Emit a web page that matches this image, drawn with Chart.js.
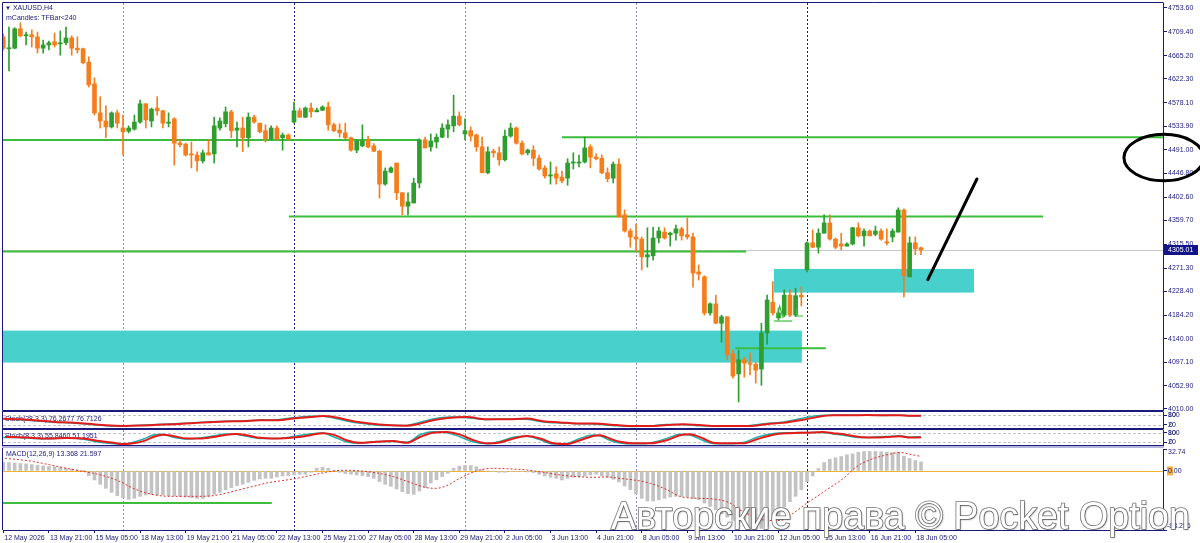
<!DOCTYPE html>
<html lang="ru"><head><meta charset="utf-8">
<script src="https://cdn.jsdelivr.net/npm/chart.js@4.4.1/dist/chart.umd.min.js"></script>
<style>
html,body{margin:0;padding:0;background:#ffffff;}
body{position:relative;width:1200px;height:543px;overflow:hidden;}
canvas{position:absolute;left:0;display:block;}
.lbl{position:absolute;font-family:'Liberation Sans',Arial,sans-serif;font-size:7px;line-height:8px;color:#1a1a7a;white-space:nowrap;}
#wm{position:absolute;left:611px;top:497px;font-family:'Liberation Sans',Arial,sans-serif;font-size:38px;line-height:38px;color:#ffffff;-webkit-text-stroke:1.6px #767676;paint-order:stroke fill;white-space:nowrap;transform-origin:0 0;text-shadow:1px 1px 2px rgba(0,0,0,0.3);}
</style></head><body>
<canvas id="cMain" width="1200" height="412" style="top:0px"></canvas>
<canvas id="cS1" width="1200" height="18" style="top:411px"></canvas>
<canvas id="cS2" width="1200" height="17" style="top:429px"></canvas>
<canvas id="cM" width="1200" height="97" style="top:446px"></canvas>
<div class="lbl" style="left:5px;top:4px;"><span style="font-size:6px">▼</span> XAUUSD,H4</div>
<div class="lbl" style="left:6px;top:14px;">mCandles: TFBar&lt;240</div>
<div id="wm">Авторские права © Pocket Option</div>
<script>
// ---------- data ----------
const openP = [4700,4678,4679,4715,4702,4704,4700,4679,4685,4691,
4687,4689,4698,4679,4678,4653,4613,4559,4544,4533,
4559,4531,4525,4529,4542,4576,4544,4568,4563,4540,
4548,4503,4501,4483,4481,4470,4485,4483,4531,4539,
4561,4527,4531,4513,4551,4540,4526,4511,4531,4513,
4518,4542,4563,4551,4568,4561,4564,4570,4537,4527,
4522,4513,4490,4498,4509,4498,4488,4427,4449,4466,
4411,4386,4392,4429,4509,4496,4505,4514,4529,4535,
4553,4520,4526,4518,4496,4448,4488,4485,4472,4516,
4531,4503,4485,4490,4475,4457,4442,4446,4440,4438,
4466,4466,4468,4496,4477,4475,4448,4438,4464,4370,
4340,4329,4325,4292,4294,4327,4338,4333,4336,4344,
4333,4329,4264,4255,4188,4205,4169,4181,4112,4075,
4101,4095,4093,4084,4151,4208,4179,4184,4221,4184,
4221,4268,4318,4310,4336,4355,4325,4316,4312,4316,
4346,4331,4340,4334,4340,4320,4329,4338,4379,4255,
4318,4309];
const highP = [4705,4718,4717,4726,4709,4713,4709,4694,4692,4707,
4711,4718,4702,4700,4679,4663,4624,4589,4572,4561,
4564,4555,4535,4555,4583,4576,4568,4589,4564,4559,
4550,4509,4503,4505,4487,4490,4509,4551,4550,4570,
4564,4542,4551,4559,4555,4540,4537,4535,4535,4522,
4520,4579,4568,4570,4577,4568,4572,4579,4540,4539,
4540,4514,4509,4537,4516,4502,4490,4457,4459,4466,
4411,4411,4438,4511,4514,4520,4520,4539,4546,4592,
4561,4548,4533,4520,4514,4496,4492,4496,4527,4540,
4533,4507,4492,4498,4481,4461,4468,4459,4451,4474,
4485,4481,4514,4500,4483,4481,4457,4468,4474,4379,
4344,4353,4329,4346,4347,4347,4346,4338,4351,4347,
4364,4336,4277,4257,4207,4221,4184,4181,4119,4119,
4106,4114,4097,4169,4221,4246,4197,4231,4231,4234,
4236,4320,4342,4344,4370,4370,4327,4336,4318,4347,
4355,4344,4342,4349,4344,4344,4344,4383,4381,4329,
4329,4310];
const lowP = [4676,4637,4678,4700,4685,4681,4670,4670,4676,4681,
4666,4685,4666,4670,4650,4607,4555,4531,4513,4531,
4531,4481,4522,4527,4540,4531,4533,4555,4531,4533,
4462,4496,4479,4457,4451,4466,4481,4466,4527,4533,
4513,4496,4487,4496,4540,4522,4505,4509,4509,4490,
4509,4540,4551,4550,4551,4561,4563,4527,4524,4514,
4511,4488,4485,4496,4494,4487,4401,4425,4448,4398,
4370,4370,4392,4420,4494,4488,4494,4513,4513,4524,
4535,4509,4507,4488,4448,4446,4477,4462,4470,4514,
4501,4481,4481,4461,4453,4438,4427,4427,4429,4425,
4455,4459,4466,4457,4472,4446,4431,4429,4366,4338,
4310,4301,4268,4273,4286,4318,4325,4312,4323,4323,
4325,4236,4249,4184,4184,4168,4134,4101,4067,4023,
4069,4073,4058,4054,4130,4184,4175,4181,4181,4181,
4201,4264,4309,4299,4336,4323,4307,4305,4312,4314,
4329,4312,4331,4331,4323,4314,4320,4338,4218,4255,
4296,4296];
const closeP = [4679,4679,4715,4702,4704,4700,4679,4685,4689,4685,
4689,4698,4679,4676,4652,4611,4559,4544,4533,4559,
4540,4524,4531,4542,4576,4546,4566,4563,4540,4542,
4503,4500,4481,4481,4470,4485,4481,4535,4544,4561,
4526,4531,4513,4551,4542,4524,4511,4531,4511,4518,
4511,4563,4551,4568,4561,4564,4570,4537,4526,4522,
4513,4490,4507,4507,4496,4488,4427,4451,4457,4411,
4386,4394,4429,4509,4494,4507,4514,4531,4537,4553,
4537,4526,4516,4496,4448,4487,4485,4472,4516,4531,
4503,4483,4490,4475,4455,4442,4444,4438,4433,4466,
4468,4468,4494,4477,4474,4448,4437,4464,4366,4340,
4329,4325,4292,4296,4327,4340,4327,4336,4344,4331,
4329,4262,4260,4188,4205,4169,4181,4110,4071,4101,
4095,4093,4082,4151,4212,4188,4188,4221,4184,4220,
4218,4318,4310,4336,4355,4325,4310,4312,4316,4346,
4331,4340,4331,4340,4325,4318,4340,4379,4257,4318,
4307,4305.01];

const priceTicks = [4010.00,4052.90,4097.10,4140.00,4184.20,4228.40,4271.30,4315.50,4359.70,4402.60,4446.80,4491.00,4533.90,4578.10,4622.30,4665.20,4709.40,4753.60];
const timeLabels = ['12 May 2026','13 May 21:00','15 May 05:00','18 May 13:00','19 May 21:00','21 May 05:00','22 May 13:00','25 May 21:00','27 May 05:00','28 May 13:00','29 May 21:00','2 Jun 05:00','3 Jun 13:00','4 Jun 21:00','8 Jun 05:00','9 Jun 13:00','10 Jun 21:00','12 Jun 05:00','15 Jun 13:00','16 Jun 21:00','18 Jun 05:00'];

const macdHist = [13,12.5,11.5,11,10.5,9.5,8.5,7.5,6.5,6,
5,4,3,1.5,0.5,-7,-13.5,-20,-26,-32,
-37,-40,-42.5,-41,-38,-36,-35,-36,-36,-37,
-37,-38,-39,-40,-41,-41,-38,-35,-32,-28,
-25,-22,-20,-17,-14,-12,-11,-11,-9,-7.5,
-7,-6,-5,-5,-2,4,5.5,4,1,-2,
-4,-5,-6,-7,-8.5,-11,-16,-20,-23,-27,
-31,-34,-35,-30,-25,-18,-13,-8.5,-3.5,4,
7,8,8,6,2,0,-1,-2,-2,-1,
-0.5,-1,-1.5,-2.5,-5,-7.5,-9.5,-11,-13.5,-11,
-9.5,-9,-7.5,-6,-5,-7.5,-9.5,-12.5,-16.5,-22.5,
-28,-34,-41,-45,-45,-43,-41,-39,-38,-38,
-39,-41,-43,-48,-53,-58,-64,-69,-74,-78,
-82,-86,-88,-86,-81,-74,-66,-54,-46,-38,
-28,-16,-7.5,3.5,12.5,17.5,19.5,21.5,24,25.5,
28,29,29,29,28.5,28,27.5,28,22,18.5,
15.5,13.4];
const macdSignal = [[0.3,19],[5.3,14],[8.2,9],[11.1,4],[13.5,0],[15.8,-3.5],[18.1,-8.5],[20.5,-16],[22.8,-26],[25.1,-33],[27.5,-37],[29.8,-38],[32.2,-38],[34.5,-38],[36.8,-37],[39.2,-33],[41.5,-28],[43.9,-23],[46.2,-18],[48.5,-15],[50.9,-12],[53.8,-7],[56.7,-2],[59.6,1],[62.6,0],[65.5,-3],[68.4,-8.5],[71.3,-17],[74.3,-25],[76,-26],[77.8,-22],[80.1,-11],[83,0],[85.9,4],[88.9,3],[91.8,1.5],[94.7,-2],[97.7,-6],[100.6,-8.5],[103.5,-9.5],[106,-9],[108,-11],[111,-14],[113.5,-18.5],[116.4,-28],[118.7,-38],[122.2,-41],[124.6,-42],[127.5,-48],[129.2,-58],[131.6,-68],[134,-74],[136.3,-74],[138.6,-63],[141,-48],[144.5,-28],[147.4,-11],[149.7,6.5],[152,16.5],[155,24],[157.3,27.5],[159,25],[161,21.6]];
const macdTicks = [32.74, 0, -88.256];
const macdTickLabels = ['32.74','0.00','-88.256'];

const stoch1Signal = [[0,58],[3,54],[6,47],[9,38],[12,34],[15,26],[18,17],[21,13],[24,15],[27,20],[30,24],[33,30],[36,36],[39,41],[42,42],[45,48],[48,48],[50.9,59],[53.8,68],[56.1,75],[58.5,65],[61.4,42],[64.3,28],[67.3,18],[70.8,14],[72.5,22],[75.4,48],[78.4,64],[81.3,68],[84.8,55],[88.3,55],[91.8,59],[94.7,42],[97.7,35],[100.6,28],[103.5,28],[107.6,18],[110.5,12],[113.5,12],[116.4,18],[119.3,24],[122.2,18],[125.1,12],[128.1,12],[131,12],[133.9,24],[136.8,32],[139.8,48],[142.7,68],[145.6,79],[148.5,79],[151.5,81],[154.4,79],[157.3,79],[159.1,76],[161,76.7]];
const stoch1Main = [[0,56],[3,51],[6,44],[9,36],[12,32],[15,23],[18,14],[21,12],[24,17],[27,22],[30,26],[33,32],[36,38],[39,42],[42,43],[45,50],[48,52],[50.9,64],[53.8,73],[56.1,74],[58.5,58],[61.4,36],[64.3,24],[67.3,15],[70.8,16],[72.5,30],[75.4,56],[78.4,68],[81.3,64],[84.8,53],[88.3,57],[91.8,55],[94.7,38],[97.7,31],[100.6,27],[103.5,25],[107.6,14],[110.5,10],[113.5,14],[116.4,22],[119.3,22],[122.2,14],[125.1,11],[128.1,12],[131,16],[133.9,28],[136.8,38],[139.8,58],[142.7,76],[145.6,82],[148.5,80],[151.5,80],[154.4,78],[157.3,80],[159.1,75],[161,76.3]];
const stoch2Signal = [[0.3,53],[2.6,52],[5.3,47],[8.2,43],[11.1,47],[14,43],[16.9,26],[19.9,11],[21,6],[22.8,11],[24.6,26],[26.3,53],[28,69],[29.8,60],[32.2,43],[34.5,43],[36.8,53],[39.2,69],[40.9,73],[42.7,65],[45,48],[48,43],[50.9,50],[53.8,65],[56.1,79],[57.9,69],[60.2,32],[62.6,15],[65.5,21],[68.4,26],[70.8,15],[73.1,53],[75.4,82],[77.8,86],[80.1,69],[82.5,32],[84.8,11],[87.1,17],[89.5,43],[91.8,60],[94.2,43],[96.5,11],[98.8,6],[101.2,32],[103.5,60],[104.7,65],[106.4,43],[108.2,21],[110.5,11],[113.5,11],[116.4,32],[118.7,65],[120.4,71],[122.8,43],[124.5,15],[126.9,11],[129.8,11],[132.1,37],[135.1,69],[138,79],[140.9,82],[143.8,86],[145.6,79],[147.9,69],[150.2,53],[152.6,50],[154.9,53],[157.3,58],[159.1,50],[161,51.2]];
const stoch2Main = [[0,50],[2.6,50],[5.3,44],[8.2,42],[11.1,48],[14,38],[16.9,18],[19.9,6],[21,5],[22.8,18],[24.6,40],[26.3,66],[28,72],[29.8,52],[32.2,40],[34.5,46],[36.8,60],[39.2,74],[40.9,72],[42.7,58],[45,44],[48,44],[50.9,56],[53.8,74],[56.1,80],[57.9,55],[60.2,22],[62.6,12],[65.5,24],[68.4,24],[70.8,18],[73.1,68],[75.4,88],[77.8,82],[80.1,55],[82.5,20],[84.8,8],[87.1,24],[89.5,52],[91.8,58],[94.2,34],[96.5,6],[98.8,10],[101.2,44],[103.5,66],[104.7,60],[106.4,32],[108.2,14],[110.5,8],[113.5,14],[116.4,44],[118.7,72],[120.4,66],[122.8,30],[124.5,10],[126.9,8],[129.8,16],[132.1,50],[135.1,76],[138,82],[140.9,84],[143.8,84],[145.6,74],[147.9,62],[150.2,50],[152.6,52],[154.9,56],[157.3,62],[159.1,52],[161,55.8]];

// drawn objects (bar index / price)
const hLines = [[4508.9,-0.05,73.1],[4513.9,98.0,203.5],[4366.7,50.1,182.4],[4302.2,-0.05,130.3],[4122.7,128.4,144.3]];
const zones = [[-0.05,140.1,4155.3,4096.0],[135.2,170.3,4269.7,4225.8]];
const trendLine = [[162.2,4249.9],[170.8,4436.5]];
const ellipseBox = [196.6,210.6,4519.2,4433.0];
const patternLines = [[[135.6,4178.7],[136.2,4201.0],[136.8,4178.7]],[[135.2,4173.1],[138.4,4173.1]],[[139.2,4197],[139.2,4182.4],[140.3,4182.4]]];
const macdHLine = [-0.05,47.1,-48];
const separators = [21,51,81,111,141];
const darkSeparators = [51,141];

// ---------- helpers ----------
const NAVY = '#1a1a7a';
const FONT = "'Liberation Sans', Arial, sans-serif";
const X_MIN = -0.05, X_MAX = 203.45;
Chart.defaults.font.family = FONT;
Chart.defaults.font.size = 7;
function fixY(w){return s=>{s.width=w;s.paddingTop=0;s.paddingBottom=0;};}
function fixX(h){return s=>{s.height=h;s.paddingLeft=0;s.paddingRight=0;};}
function seg(ctx,x1,y1,x2,y2){ctx.beginPath();ctx.moveTo(x1,y1);ctx.lineTo(x2,y2);ctx.stroke();}
function clipArea(chart){const a=chart.chartArea,ctx=chart.ctx;ctx.beginPath();ctx.rect(a.left,a.top,a.right-a.left,a.bottom-a.top);ctx.clip();}
function drawSeps(chart){
  const ctx=chart.ctx, xs=chart.scales.x, a=chart.chartArea;
  ctx.save(); ctx.lineWidth=1; ctx.setLineDash([2,2]);
  separators.forEach(v=>{const x=Math.round(xs.getPixelForValue(v))+0.5; ctx.strokeStyle=darkSeparators.includes(v)?'#1e1e86':'#8a8ac6'; seg(ctx,x,a.top,x,a.bottom);});
  ctx.restore();
}
const baseOpts = {responsive:false, animation:false, events:[], plugins:{legend:{display:false},tooltip:{enabled:false}}};
const lastPrice = closeP[closeP.length-1];

// ---------- main price chart ----------
const candleColors = closeP.map((c,i)=> c>=openP[i] ? '#2f9e2f' : '#f47d1c');
const mainDeco = {id:'mainDeco',
  beforeDatasetsDraw(chart){
    const ctx=chart.ctx, xs=chart.scales.x, ys=chart.scales.y, a=chart.chartArea;
    drawSeps(chart);
    ctx.save(); clipArea(chart);
    const yb=Math.round(ys.getPixelForValue(lastPrice))+0.5;
    ctx.strokeStyle='#c8c8c8'; ctx.lineWidth=1; seg(ctx,a.left,yb,a.right,yb);
    ctx.fillStyle='#48d1cc';
    zones.forEach(z=>{const x1=xs.getPixelForValue(z[0]),x2=xs.getPixelForValue(z[1]),y1=ys.getPixelForValue(z[2]),y2=ys.getPixelForValue(z[3]);ctx.fillRect(x1,y1,x2-x1,y2-y1);});
    ctx.strokeStyle='#3dbd3d'; ctx.lineWidth=2;
    hLines.forEach(h=>{const y=ys.getPixelForValue(h[0]);seg(ctx,xs.getPixelForValue(h[1]),y,xs.getPixelForValue(h[2]),y);});
    ctx.restore();
  },
  afterDatasetsDraw(chart){
    const ctx=chart.ctx, xs=chart.scales.x, ys=chart.scales.y;
    ctx.save(); clipArea(chart);
    ctx.strokeStyle='#3dbd3d'; ctx.lineWidth=1.2;
    patternLines.forEach(pl=>{ctx.beginPath();pl.forEach((p,k)=>{const x=xs.getPixelForValue(p[0]),y=ys.getPixelForValue(p[1]);if(k)ctx.lineTo(x,y);else ctx.moveTo(x,y);});ctx.stroke();});
    ctx.strokeStyle='#000'; ctx.lineWidth=3; ctx.lineCap='round';
    seg(ctx,xs.getPixelForValue(trendLine[0][0]),ys.getPixelForValue(trendLine[0][1]),xs.getPixelForValue(trendLine[1][0]),ys.getPixelForValue(trendLine[1][1]));
    ctx.restore();
  },
  afterDraw(chart){
    const ctx=chart.ctx, xs=chart.scales.x, ys=chart.scales.y, a=chart.chartArea;
    ctx.save();
    ctx.strokeStyle=NAVY; ctx.lineWidth=1;
    seg(ctx,2.5,2.5,a.right+0.5,2.5); seg(ctx,2.5,2.5,2.5,a.bottom+0.5); seg(ctx,2.5,a.bottom+0.5,a.right+0.5,a.bottom+0.5);
    const yb=Math.round(ys.getPixelForValue(lastPrice));
    ctx.fillStyle='#14148a'; ctx.fillRect(a.right+1,yb-5,34,10);
    ctx.fillStyle='#ffffff'; ctx.font='7px '+FONT; ctx.textBaseline='middle'; ctx.textAlign='left';
    ctx.fillText(lastPrice.toFixed(2),a.right+5,yb+0.5);
    const ex1=xs.getPixelForValue(ellipseBox[0]),ex2=xs.getPixelForValue(ellipseBox[1]),ey1=ys.getPixelForValue(ellipseBox[2]),ey2=ys.getPixelForValue(ellipseBox[3]);
    ctx.strokeStyle='#000'; ctx.lineWidth=3; ctx.beginPath();
    ctx.ellipse((ex1+ex2)/2,(ey1+ey2)/2,(ex2-ex1)/2,Math.abs(ey2-ey1)/2,0,0,Math.PI*2); ctx.stroke();
    ctx.restore();
  }};
new Chart(document.getElementById('cMain'),{
  type:'bar',
  data:{datasets:[
    {data:openP.map((o,i)=>({x:i,y:[o,closeP[i]]})),backgroundColor:candleColors,barThickness:4,grouped:false,minBarLength:1},
    {data:openP.map((o,i)=>({x:i,y:[lowP[i],highP[i]]})),backgroundColor:candleColors,barThickness:1,grouped:false}
  ]},
  options:Object.assign({},baseOpts,{
    layout:{padding:{left:3,top:3,right:0,bottom:2}},
    scales:{
      x:{type:'linear',min:X_MIN,max:X_MAX,offset:false,display:false,grid:{offset:false}},
      y:{position:'right',min:4008.1,max:4762.8,afterFit:fixY(37),
         afterBuildTicks:s=>{s.ticks=priceTicks.map(v=>({value:v}));},
         ticks:{callback:v=>Number(v).toFixed(2),font:{size:7},color:NAVY,padding:1,autoSkip:false},
         grid:{drawOnChartArea:false,tickLength:4,color:NAVY},border:{color:NAVY}}
    }}),
  plugins:[mainDeco]
});

// ---------- stochastic panels ----------
function stochChart(id, mainPts, sigPts, legend){
  const deco={id:'sd'+id,
    beforeDatasetsDraw(chart){
      const ctx=chart.ctx, ys=chart.scales.y, a=chart.chartArea;
      drawSeps(chart);
      ctx.save(); ctx.strokeStyle='#c4c4c4'; ctx.lineWidth=1; ctx.setLineDash([3,2]);
      [80,20].forEach(v=>{const y=Math.round(ys.getPixelForValue(v))+0.5;seg(ctx,a.left,y,a.right,y);});
      ctx.setLineDash([]);
      ctx.fillStyle=NAVY; ctx.font='7px '+FONT; ctx.textBaseline='middle'; ctx.textAlign='left';
      ctx.fillText(legend,5,(a.top+a.bottom)/2-1);
      ctx.restore();
    },
    afterDraw(chart){
      const ctx=chart.ctx, ys=chart.scales.y, a=chart.chartArea, H=chart.height;
      ctx.save(); ctx.strokeStyle=NAVY; ctx.lineWidth=1;
      seg(ctx,2.5,0.5,a.right+0.5,0.5); seg(ctx,2.5,H-0.5,a.right+0.5,H-0.5); seg(ctx,2.5,0,2.5,H);
      ctx.fillStyle=NAVY; ctx.font='7px '+FONT; ctx.textBaseline='middle'; ctx.textAlign='left';
      ctx.fillText('100',a.right+5,ys.getPixelForValue(80)); ctx.fillText('0',a.right+6,ys.getPixelForValue(20));
      ctx.restore();
    }};
  return new Chart(document.getElementById(id),{
    type:'line',
    data:{datasets:[
      {data:sigPts.map(p=>({x:p[0],y:p[1]})),borderColor:'#e41b1b',borderWidth:2,pointRadius:0,cubicInterpolationMode:'monotone'},
      {data:mainPts.map(p=>({x:p[0],y:p[1]})),borderColor:'#20b2aa',borderWidth:1.5,pointRadius:0,cubicInterpolationMode:'monotone'}
    ]},
    options:Object.assign({},baseOpts,{
      layout:{padding:{left:3,top:1,right:0,bottom:1}},
      scales:{
        x:{type:'linear',min:X_MIN,max:X_MAX,display:false},
        y:{position:'right',min:0,max:100,afterFit:fixY(37),
           afterBuildTicks:s=>{s.ticks=[{value:20},{value:80}];},
           ticks:{font:{size:7},color:NAVY,padding:1,autoSkip:false},
           grid:{drawOnChartArea:false,tickLength:4,color:NAVY},border:{color:NAVY}}
      }}),
    plugins:[deco]
  });
}
stochChart('cS1',stoch1Main,stoch1Signal,'Stoch(28,3,3) 76.2677 76.7126');
stochChart('cS2',stoch2Main,stoch2Signal,'Stoch(8,3,3) 55.8460 51.1951');

// ---------- MACD panel ----------
const macdDeco={id:'macdDeco',
  beforeDatasetsDraw(chart){
    const ctx=chart.ctx, xs=chart.scales.x, ys=chart.scales.y, a=chart.chartArea;
    drawSeps(chart);
    ctx.save(); clipArea(chart);
    const y0=Math.round(ys.getPixelForValue(0))+0.5;
    ctx.strokeStyle='#f0b232'; ctx.lineWidth=1; seg(ctx,a.left,y0,a.right,y0);
    ctx.strokeStyle='#3dbd3d'; ctx.lineWidth=2;
    const yg=ys.getPixelForValue(macdHLine[2]); seg(ctx,xs.getPixelForValue(macdHLine[0]),yg,xs.getPixelForValue(macdHLine[1]),yg);
    ctx.fillStyle=NAVY; ctx.font='7px '+FONT; ctx.textBaseline='middle'; ctx.textAlign='left';
    ctx.fillText('MACD(12,26,9) 13.368 21.597',6,a.top+5);
    ctx.restore();
  },
  afterDraw(chart){
    const ctx=chart.ctx, ys=chart.scales.y, a=chart.chartArea;
    ctx.save();
    ctx.fillStyle='#b4b4dc'; ctx.fillRect(2,0,a.right-1,2);
    ctx.strokeStyle=NAVY; ctx.lineWidth=1; seg(ctx,2.5,2,2.5,a.bottom);
    ctx.font='7px '+FONT; ctx.textBaseline='middle'; ctx.textAlign='left';
    const lx=a.right+5;
    const offs=[3,0,-4];
    macdTicks.forEach((v,k)=>{
      const y=ys.getPixelForValue(v)+offs[k];
      if(v===0){ctx.fillStyle='#f4b040';ctx.fillRect(lx-1,y-4.5,6,9);}
      ctx.fillStyle=NAVY; ctx.fillText(macdTickLabels[k],v<0?lx-1:lx,y);
    });
    ctx.restore();
  }};
new Chart(document.getElementById('cM'),{
  type:'bar',
  data:{datasets:[
    {type:'line',data:macdSignal.map(p=>({x:p[0],y:p[1]})),borderColor:'#d83030',borderWidth:1,borderDash:[2,2],pointRadius:0,cubicInterpolationMode:'monotone'},
    {type:'bar',data:macdHist.map((v,i)=>({x:i,y:v})),backgroundColor:'#c3c3c3',barThickness:3}
  ]},
  options:Object.assign({},baseOpts,{
    layout:{padding:{left:3,top:3,right:0,bottom:0}},
    scales:{
      x:{type:'linear',min:X_MIN,max:X_MAX,offset:false,afterFit:fixX(13),
         afterBuildTicks:s=>{s.ticks=timeLabels.map((_,k)=>({value:k*8}));},
         ticks:{callback:v=>timeLabels[Math.round(v/8)],align:'start',maxRotation:0,minRotation:0,autoSkip:false,font:{size:7},color:NAVY,padding:1,labelOffset:1},
         grid:{drawOnChartArea:false,tickLength:3,color:NAVY,offset:false},border:{color:NAVY}},
      y:{position:'right',min:-88.256,max:32.74,afterFit:fixY(37),
         afterBuildTicks:s=>{s.ticks=macdTicks.slice().sort((a,b)=>a-b).map(v=>({value:v}));},
         ticks:{display:false},
         grid:{drawOnChartArea:false,tickLength:4,color:NAVY},border:{color:NAVY}}
    }}),
  plugins:[macdDeco]
});

// ---------- watermark fit ----------
const wm=document.getElementById('wm');
const w=wm.getBoundingClientRect().width;
if(w>0){wm.style.transform='scaleX('+(579/w)+')';}
</script>
</body></html>
